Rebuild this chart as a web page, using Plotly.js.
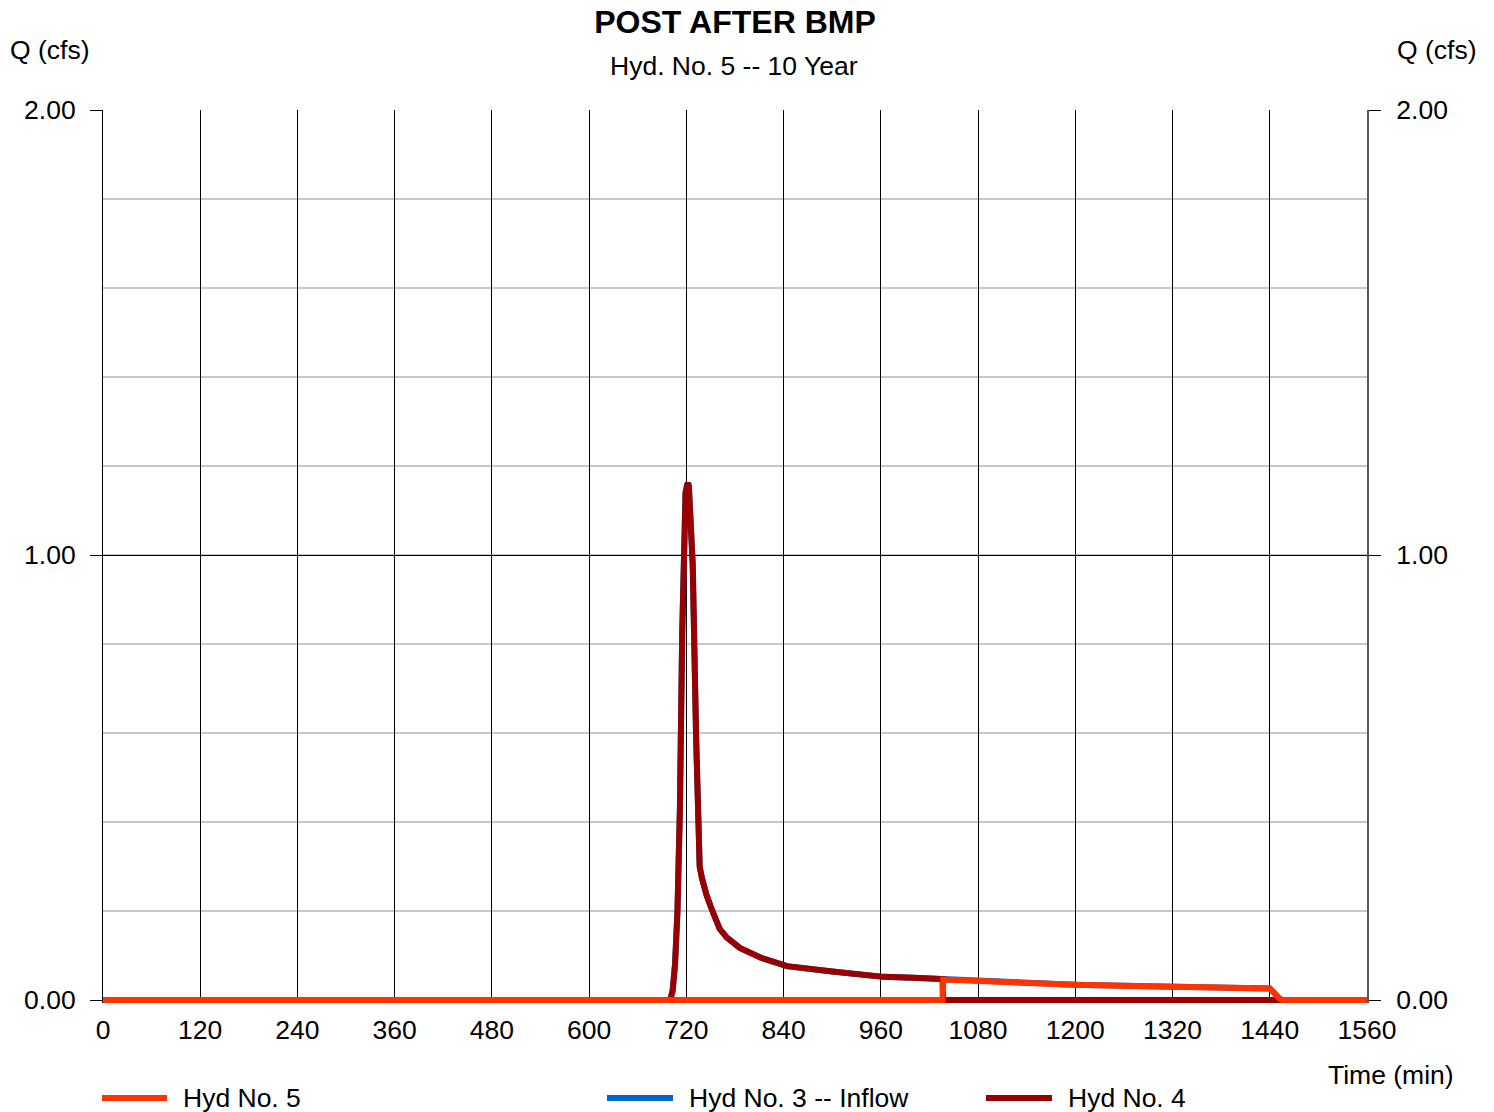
<!DOCTYPE html>
<html>
<head>
<meta charset="utf-8">
<script src="https://cdn.plot.ly/plotly-3.0.1.min.js"></script>
<style>html,body{margin:0;padding:0;background:#fff;}#chart{width:1494px;height:1112px;}</style>
</head>
<body>
<div id="chart"></div>
<script>
// ---- Data ----
var hyd4Time = [0, 700, 703, 706, 709, 712, 714.8, 716.8, 719, 721, 722, 723, 724.5, 727.8, 732, 735, 736.4, 739, 741, 745, 750, 755, 761, 770, 786, 812, 844, 900, 963, 1000, 1036, 1037, 1560];
var hyd4Q    = [0, 0, 0.02, 0.08, 0.2, 0.43, 0.82, 1.06, 1.14, 1.158, 1.162, 1.155, 1.11, 0.98, 0.59, 0.36, 0.30, 0.275, 0.26, 0.235, 0.21, 0.185, 0.16, 0.14, 0.117, 0.095, 0.076, 0.064, 0.052, 0.050, 0.047, 0, 0];

var hyd5Time = [0, 1036, 1037, 1080, 1170, 1200, 1290, 1320, 1436, 1440, 1444, 1448, 1452, 1456, 1560];
var hyd5Q    = [0, 0, 0.046, 0.043, 0.036, 0.034, 0.031, 0.030, 0.028, 0.026, 0.019, 0.010, 0.003, 0, 0];

var inflowTime = [0, 700, 703, 706, 709, 712, 714.8, 716.8, 719, 721, 722, 723, 724.5, 727.8, 732, 735, 736.4, 739, 741, 745, 750, 755, 761, 770, 786, 812, 844, 900, 963, 1000, 1036, 1080, 1170, 1200, 1290, 1320, 1436, 1440, 1444, 1448, 1452, 1456, 1560];
var inflowQ    = [0, 0, 0.02, 0.08, 0.2, 0.43, 0.82, 1.06, 1.14, 1.158, 1.162, 1.155, 1.11, 0.98, 0.59, 0.36, 0.30, 0.275, 0.26, 0.235, 0.21, 0.185, 0.16, 0.14, 0.117, 0.095, 0.076, 0.064, 0.052, 0.050, 0.047, 0.043, 0.036, 0.034, 0.031, 0.030, 0.028, 0.026, 0.019, 0.010, 0.003, 0, 0];

var xTicks = [0, 120, 240, 360, 480, 600, 720, 840, 960, 1080, 1200, 1320, 1440, 1560];
var yTicks = [0, 1, 2];
var legendNames = ["Hyd No. 5", "Hyd No. 3 -- Inflow", "Hyd No. 4"];
var colors = {hyd5: "#FF3300", inflow: "#0066CC", hyd4: "#990000"};

var FONT = "Liberation Sans, Arial, sans-serif";
var FS = 26.5;
// small extension below zero so the zero-level lines are not half clipped
var yMin = -3 / 445;

var traces = [
  {x: inflowTime, y: inflowQ, mode: "lines", name: legendNames[1], line: {color: colors.inflow, width: 6}, hoverinfo: "skip"},
  {x: hyd4Time, y: hyd4Q, mode: "lines", name: legendNames[2], line: {color: colors.hyd4, width: 6}, hoverinfo: "skip"},
  {x: hyd5Time, y: hyd5Q, mode: "lines", name: legendNames[0], line: {color: colors.hyd5, width: 6}, hoverinfo: "skip"},
  // empty trace so the right-hand axis (same scale) is created and drawn
  {x: [], y: [], yaxis: "y2", mode: "lines", showlegend: false, hoverinfo: "skip"}
];

var PLOT_BOTTOM = 1003;
function px(xp){ return (xp - 103) / 1264; }
function py(yp){ return (PLOT_BOTTOM - yp) / (PLOT_BOTTOM - 110); }

var legendItems = [
  {name: legendNames[0], color: colors.hyd5, x0: 102, x1: 167, tx: 181},
  {name: legendNames[1], color: colors.inflow, x0: 607, x1: 673, tx: 687},
  {name: legendNames[2], color: colors.hyd4, x0: 986, x1: 1052, tx: 1066}
];

var shapes = [];
var annotations = [];
legendItems.forEach(function(it){
  shapes.push({type: "line", xref: "paper", yref: "paper", x0: px(it.x0), x1: px(it.x1), y0: py(1098), y1: py(1098), line: {color: it.color, width: 6}});
  annotations.push({xref: "paper", yref: "paper", x: px(it.tx), y: py(1098), xanchor: "left", yanchor: "middle", text: it.name, showarrow: false, font: {family: FONT, size: FS, color: "#000"}});
});

annotations.push({xref: "paper", yref: "paper", x: px(50), y: py(50), xanchor: "center", yanchor: "middle", text: "Q (cfs)", showarrow: false, font: {family: FONT, size: FS, color: "#000"}});
annotations.push({xref: "paper", yref: "paper", x: px(1437), y: py(50), xanchor: "center", yanchor: "middle", text: "Q (cfs)", showarrow: false, font: {family: FONT, size: FS, color: "#000"}});
annotations.push({xref: "paper", yref: "paper", x: px(733.5), y: py(66), xanchor: "center", yanchor: "middle", text: "Hyd. No. 5 -- 10 Year", showarrow: false, font: {family: FONT, size: FS, color: "#000"}});
annotations.push({xref: "paper", yref: "paper", x: px(1391), y: py(1075), xanchor: "center", yanchor: "middle", text: "Time (min)", showarrow: false, font: {family: FONT, size: FS, color: "#000"}});

var layout = {
  width: 1494, height: 1112,
  margin: {l: 103, r: 127, t: 110, b: 1112 - PLOT_BOTTOM, pad: 0},
  paper_bgcolor: "#fff", plot_bgcolor: "#fff",
  showlegend: false,
  font: {family: FONT, size: FS, color: "#000"},
  title: {text: "<b>POST AFTER BMP</b>", x: 735/1494, xanchor: "center", y: 1 - 22/1112, yanchor: "middle", yref: "container", font: {family: FONT, size: 32, color: "#000"}},
  xaxis: {
    range: [0, 1560], tickmode: "array", tickvals: xTicks, ticktext: xTicks.map(String),
    showgrid: true, gridcolor: "#000", gridwidth: 1, zeroline: false, showline: false,
    ticks: "", ticklabelstandoff: 8, tickfont: {family: FONT, size: FS, color: "#000"}, fixedrange: true
  },
  yaxis: {
    range: [yMin, 2], tickmode: "array", tickvals: yTicks, ticktext: yTicks.map(function(v){return v.toFixed(2);}),
    showgrid: true, gridcolor: "#000", gridwidth: 1, zeroline: false,
    showline: true, linecolor: "#000", linewidth: 1,
    ticks: "outside", ticklen: 12, tickcolor: "#000", tickwidth: 1, ticklabelstandoff: 9,
    minor: {dtick: 0.2, tick0: 0, showgrid: true, gridcolor: "#c8c8c8", gridwidth: 2, ticks: ""},
    tickfont: {family: FONT, size: FS, color: "#000"}, fixedrange: true
  },
  yaxis2: {
    overlaying: "y", side: "right", anchor: "x",
    range: [yMin, 2], tickmode: "array", tickvals: yTicks, ticktext: yTicks.map(function(v){return v.toFixed(2);}),
    showgrid: false, zeroline: false, showline: true, linecolor: "#555", linewidth: 2,
    ticks: "outside", ticklen: 12, tickcolor: "#000", tickwidth: 1, ticklabelstandoff: 10,
    tickfont: {family: FONT, size: FS, color: "#000"}, fixedrange: true
  },
  shapes: shapes,
  annotations: annotations
};

Plotly.newPlot("chart", traces, layout, {displayModeBar: false, staticPlot: true});
</script>
</body>
</html>
